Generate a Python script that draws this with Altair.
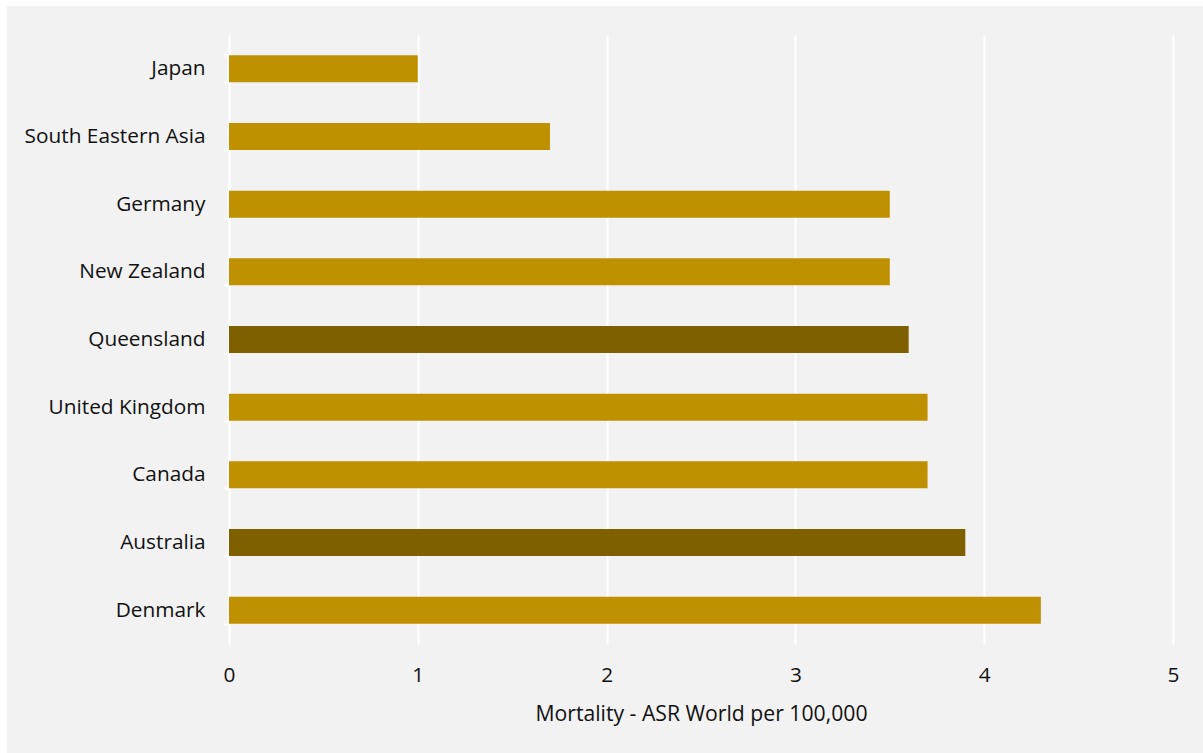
import altair as alt
import pandas as pd

# Mortality, age-standardised rate (World) per 100,000
regions = ["Japan", "South Eastern Asia", "Germany", "New Zealand", "Queensland",
           "United Kingdom", "Canada", "Australia", "Denmark"]
rates = [1.0, 1.7, 3.5, 3.5, 3.6, 3.7, 3.7, 3.9, 4.3]
highlighted = ["Queensland", "Australia"]

df = pd.DataFrame({"region": regions, "rate": rates})
df["group"] = ["Local" if r in highlighted else "Other" for r in regions]

FONT = "Open Sans"
W, H = 944, 609          # plot area
LEFT, TOP = 229, 35      # padding around plot area
PAGE_W, PAGE_H = 1203, 753

# thin white margin along the top and left edges of the grey chart panel
one = pd.DataFrame({"k": [0]})
top_strip = alt.Chart(one).mark_rect(color="white").encode(
    x=alt.value(-LEFT), x2=alt.value(PAGE_W - LEFT),
    y=alt.value(-TOP), y2=alt.value(6 - TOP),
)
left_strip = alt.Chart(one).mark_rect(color="white").encode(
    x=alt.value(-LEFT), x2=alt.value(7 - LEFT),
    y=alt.value(-TOP), y2=alt.value(PAGE_H - TOP),
)

bars = alt.Chart(df).mark_bar().encode(
    x=alt.X("rate:Q",
            scale=alt.Scale(domain=[0, 5], nice=False),
            axis=alt.Axis(title="Mortality - ASR World per 100,000",
                          values=[0, 1, 2, 3, 4, 5], format="d",
                          domain=False, ticks=False, labelFlush=False,
                          grid=True, gridColor="white", gridWidth=2,
                          labelPadding=21, titlePadding=19)),
    y=alt.Y("region:N", sort=regions,
            scale=alt.Scale(paddingInner=0.6, paddingOuter=0.3),
            axis=alt.Axis(title=None, domainColor="white", domainWidth=2,
                          tickColor="white", tickWidth=2, tickSize=6,
                          tickBand="extent", labelPadding=18, labelLimit=400,
                          grid=False)),
    color=alt.Color("group:N",
                    scale=alt.Scale(domain=["Other", "Local"],
                                    range=["#bf9000", "#7f6000"]),
                    legend=None),
)

chart = alt.layer(bars, top_strip, left_strip).properties(
    width=W, height=H,
    padding={"left": LEFT, "top": TOP, "right": PAGE_W - LEFT - W, "bottom": PAGE_H - TOP - H},
    autosize=alt.AutoSizeParams(type="none"),
    background="#f2f2f2",
).configure_view(stroke=None).configure_axis(
    labelFont=FONT, titleFont=FONT, labelFontSize=20.8, titleFontSize=21.2,
    labelColor="#111111", titleColor="#111111", titleFontWeight="normal",
)

chart.save("out.html", embed_options={"renderer": "svg", "actions": False})
